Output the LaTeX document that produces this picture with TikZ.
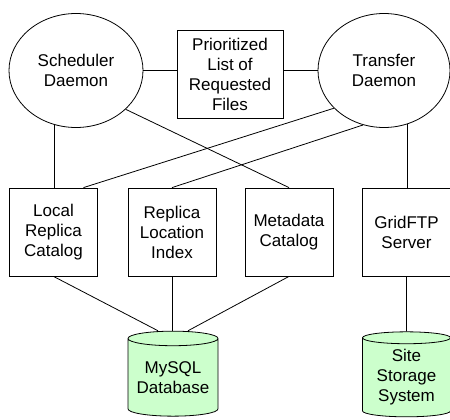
\documentclass[tikz,border=0pt]{standalone}
\usepackage{fontspec}
\setmainfont{Liberation Sans}
\usetikzlibrary{shapes.geometric}
\definecolor{dbgreen}{HTML}{CCFFCC}

\begin{document}
\begin{tikzpicture}[x=1pt, y=-1pt, line width=.8pt,
  txt/.style={align=center, font=\fontsize{17}{20}\selectfont, inner sep=0pt},
  daemon/.style={txt, draw, ellipse, minimum width=134pt, minimum height=114pt},
  box/.style={txt, draw, rectangle, minimum width=88pt, minimum height=88pt},
  store/.style={txt, draw, cylinder, shape border rotate=90, aspect=.2,
    minimum width=90pt, minimum height=85pt, cylinder uses custom fill,
    cylinder body fill=dbgreen, cylinder end fill=dbgreen}]
\useasboundingbox (0,0) rectangle (450,420);
\node[daemon] (sched) at (76,70.5) {Scheduler\\Daemon};
\node[box, minimum width=106pt] (plist) at (230,74) {Prioritized\\List of\\Requested\\Files};
\node[daemon, minimum width=132pt] (xfer) at (384,70.5) {Transfer\\Daemon};
\node[box] (lrc) at (53.5,232) {Local\\Replica\\Catalog};
\node[box] (rli) at (172,232) {Replica\\Location\\Index};
\node[box] (mdc) at (289,232) {Metadata\\Catalog};
\node[box] (gftp) at (406.5,232) {GridFTP\\Server};
\node[store] (mysql) at (173,377.5) {MySQL\\Database};
\node[store, minimum width=88pt] (site) at (406.5,377.5) {Site\\Storage\\System};
\draw (sched.east) -- (sched.east -| plist.west);
\draw (plist.east |- xfer.west) -- (xfer.west);
\draw (sched.248) -- (sched.248 |- lrc.north);
\draw (sched.322) -- (mdc.north);
\draw (xfer.217) -- ([xshift=30pt]lrc.north);
\draw (xfer.249) -- (rli.north);
\draw (xfer.294) -- (xfer.294 |- gftp.north);
\draw (lrc.south) -- ([xshift=-15pt]mysql.north);
\draw (rli.south) -- (rli.south |- mysql.north);
\draw (mdc.south) -- ([xshift=15pt]mysql.north);
\draw (gftp.south) -- (site.north);
\end{tikzpicture}
\end{document}
